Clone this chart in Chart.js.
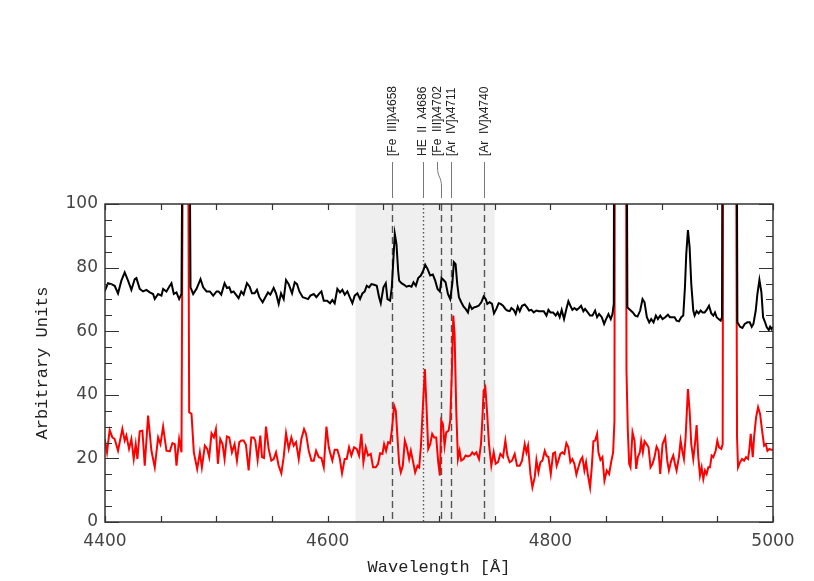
<!DOCTYPE html>
<html>
<head>
<meta charset="utf-8">
<script src="https://cdn.jsdelivr.net/npm/chart.js@4.4.1/dist/chart.umd.min.js"></script>
<style>
  html, body { margin: 0; padding: 0; background: #ffffff; }
  #wrap { position: relative; width: 814px; height: 581px; }
</style>
</head>
<body>
<div id="wrap"><canvas id="c" width="814" height="581"></canvas></div>
<script>
// ---------------- data ----------------
const xTickLabels = [4400, 4600, 4800, 5000];
const yTickLabels = [0, 20, 40, 60, 80, 100];

const blackWl = [
4399.7,4402.7,4405.7,4408.7,4411.7,4414.7,4417.7,4420.7,4423.7,4426.7,4428.2,4431.2,4434.2,4437.2,4440.2,4443.2,4444.7,4447.7,4450.7,4452.2,4455.2,4458.2,4459.7,4461.8,4464.2,4466.6,4468.7,4470.0,4475.6,4476.8,4479.2,4482.2,4485.8,4488.2,4491.2,4494.2,4497.2,4500.2,
4502.0,4504.4,4507.4,4509.5,4511.6,4513.4,4515.5,4517.6,4520.0,4522.4,4524.5,4527.5,4529.9,4532.0,4534.4,4536.5,4538.6,4541.6,4544.0,4546.4,4548.5,4551.5,4553.6,4556.0,4558.1,4560.5,4562.6,4565.0,4568.0,4570.4,4572.5,4574.6,4577.6,4580.0,4582.4,4584.5,4587.5,4589.9,4592.6,4594.4,4596.5,4599.5,
4602.1,4604.2,4606.3,4608.7,4611.1,4613.2,4615.3,4617.7,4619.8,4622.2,4624.3,4626.7,4629.1,4631.2,4633.3,4635.1,4637.2,4639.3,4641.7,4644.1,4646.2,4647.7,4650.1,4652.2,4653.7,4656.1,4657.6,4659.1,4660.3,4661.8,4663.3,4664.2,4666.3,4668.7,4670.8,4673.2,4675.3,4677.1,4679.2,4681.3,4683.7,4685.8,4687.6,4689.7,4692.1,4694.5,4696.6,4698.7,4700.8,
4702.3,4704.1,4705.9,4708.0,4710.1,4711.9,4713.4,4714.9,4716.4,4717.9,4720.0,4722.1,4723.9,4726.0,4727.5,4729.6,4731.4,4733.5,4735.6,4738.0,4740.1,4741.9,4743.4,4745.5,4747.6,4749.4,4751.5,4753.6,4755.4,4757.5,4759.6,4761.4,4763.5,4765.0,4767.1,4768.9,4770.7,4772.5,4774.6,4777.0,4779.1,4780.9,4783.0,4785.1,4787.5,4789.6,4792.0,4794.1,4796.5,4798.3,4800.1,4802.5,
4803.0,4804.8,4806.6,4808.4,4810.2,4812.3,4814.4,4816.2,4818.0,4819.8,4821.6,4823.7,4825.8,4827.6,4829.7,4831.2,4833.6,4835.7,4837.8,4840.2,4842.0,4843.8,4846.2,4848.3,4850.1,4852.2,4854.3,4855.8,4857.0,4858.2,4867.0,4869.2,4871.7,4874.1,4876.2,4878.3,4880.7,4882.8,4884.6,4886.7,4888.8,4890.6,4892.7,4894.8,4896.6,4898.7,4900.8,4903.2,
4905.6,4907.4,4909.5,4911.6,4913.4,4915.5,4917.6,4919.4,4920.9,4922.1,4923.6,4925.1,4926.6,4928.4,4929.6,4931.4,4933.2,4935.0,4936.8,4938.6,4940.4,4942.5,4944.6,4946.4,4947.9,4949.4,4951.2,4953.0,4954.2,4955.6,4966.0,4968.0,4970.4,4972.5,4974.6,4977.0,4979.1,4980.9,4982.4,4984.5,4986.0,4987.8,4989.6,4991.1,4992.9,4994.4,4996.2,4997.4,4998.6,4999.8
];
const blackFlux = [
72.5,75.1,74.8,74.3,71.9,75.9,78.5,75.9,73.0,76.4,76.7,73.3,72.5,73.0,72.2,71.7,70.1,71.7,71.2,73.3,72.5,74.3,75.1,71.7,72.2,70.1,71.7,150,150,73.8,71.7,73.3,76.4,73.8,72.5,72.5,71.2,72.5,
72.5,71.5,75.1,73.6,73.8,72.2,72.5,71.5,70.4,72.5,71.5,75.1,74.0,71.9,71.9,73.0,70.7,69.1,70.7,72.2,71.5,73.6,71.9,68.6,71.9,70.1,76.1,74.8,71.9,75.4,74.8,72.5,70.7,70.4,70.1,71.2,71.7,70.7,71.9,72.5,69.6,69.6,
68.8,69.8,68.8,73.3,72.2,73.0,71.5,72.5,70.7,68.8,71.2,71.9,70.1,71.9,72.5,74.3,73.8,74.8,74.6,74.3,70.7,68.8,73.8,75.1,70.1,69.6,73.8,83.2,90.6,87.4,79.0,75.9,75.1,74.6,74.0,74.3,74.0,75.4,74.3,76.7,77.5,79.0,80.9,79.6,77.5,77.8,75.9,73.3,72.5,
76.7,76.1,75.4,71.7,70.1,74.8,81.7,81.1,74.8,70.7,69.1,67.7,67.0,65.9,68.4,67.0,67.5,67.7,68.0,69.1,70.9,70.1,68.6,69.1,68.6,65.6,67.0,68.8,68.6,68.0,67.0,66.5,66.3,67.3,66.7,65.4,67.7,66.3,68.0,68.4,67.5,66.5,66.7,65.9,66.5,66.3,66.3,66.3,64.9,66.7,65.9,65.9,
65.9,64.9,65.9,64.4,66.7,63.8,67.0,69.4,68.0,66.7,67.3,66.7,67.3,68.0,66.3,67.0,65.9,64.9,64.9,66.5,64.4,65.4,64.4,62.3,63.8,65.4,63.8,65.4,68.6,300,300,67.5,66.7,65.9,64.9,64.6,66.5,70.1,69.1,64.4,62.8,63.8,62.8,64.9,63.8,64.9,63.8,64.4,
65.2,64.4,64.4,64.4,63.3,63.1,64.4,64.9,73.8,84.3,91.8,86.4,74.8,66.5,64.9,66.3,65.6,66.5,65.9,65.9,66.7,68.0,65.6,64.9,65.9,64.4,63.8,63.3,64.4,300,300,62.8,61.4,61.0,62.3,62.8,62.8,61.4,62.3,66.5,71.7,76.1,72.2,64.4,62.8,61.2,60.4,61.4,60.7,61.4
];

const redWl = [
4399.7,4401.8,4404.2,4406.6,4408.7,4411.7,4415.6,4417.7,4419.2,4421.6,4423.7,4425.8,4427.6,4429.1,4431.2,4433.6,4435.7,4438.7,4441.7,4444.7,4447.7,4449.8,4452.2,4455.2,4458.2,4460.6,4462.7,4464.2,4466.6,4468.7,4470.8,4474.0,4475.6,4477.7,4479.8,4482.8,4485.2,4487.0,4489.7,4491.8,4493.6,4495.7,4497.8,4499.6,
4501.4,4503.5,4505.6,4507.4,4509.5,4511.6,4514.0,4516.4,4518.5,4520.6,4522.4,4524.5,4526.6,4529.0,4531.4,4533.5,4535.0,4537.1,4539.5,4541.0,4542.8,4544.6,4547.0,4549.4,4551.5,4553.6,4556.0,4558.4,4560.5,4562.6,4565.0,4567.4,4569.5,4571.6,4574.0,4576.4,4578.8,4580.6,4583.0,4585.4,4587.5,4589.6,4592.0,4594.4,4596.5,4598.9,4601.0,
4602.1,4604.2,4606.3,4608.7,4610.8,4612.9,4615.3,4617.1,4619.2,4621.3,4623.7,4626.1,4628.2,4630.3,4632.1,4634.2,4636.3,4638.7,4640.8,4643.2,4645.3,4647.1,4649.2,4650.7,4652.5,4654.3,4656.1,4657.6,4659.7,4661.2,4662.7,4664.2,4665.7,4667.5,4669.3,4671.1,4673.2,4674.7,4676.5,4678.6,4680.7,4682.2,4683.7,4685.2,4687.3,4688.8,4690.3,4692.1,4693.9,4695.7,4697.5,4699.3,4700.8,
4702.0,4703.5,4705.0,4706.5,4708.6,4710.1,4711.6,4712.8,4714.0,4715.5,4717.0,4718.5,4720.0,4722.1,4723.9,4726.0,4728.1,4729.9,4731.7,4733.5,4735.9,4737.7,4738.9,4740.1,4741.6,4743.1,4744.9,4747.0,4749.1,4750.9,4753.0,4755.1,4757.5,4759.6,4761.4,4763.5,4765.6,4768.0,4770.1,4772.5,4774.6,4777.0,4778.5,4780.0,4782.1,4783.9,4786.0,4787.5,4789.3,4791.1,4792.9,4795.0,4796.5,4798.3,4800.4,4802.5,
4804.2,4805.7,4807.2,4809.0,4810.8,4812.6,4814.4,4816.2,4818.0,4819.8,4821.6,4823.4,4825.2,4827.0,4828.8,4830.6,4832.1,4833.6,4835.7,4837.2,4838.7,4840.2,4842.0,4843.2,4845.0,4846.8,4848.6,4850.7,4852.8,4854.6,4856.4,4857.6,4858.5,4867.2,4868.4,4869.6,4870.8,4872.0,4873.8,4875.6,4877.1,4878.6,4880.4,4881.6,4883.1,4884.6,4886.4,4888.2,4890.0,4891.8,4893.6,4895.4,4897.2,4898.7,4900.8,4903.2,
4905.0,4906.5,4908.6,4910.4,4911.9,4913.4,4915.5,4917.0,4918.5,4920.0,4921.5,4923.6,4925.1,4926.6,4928.4,4929.9,4931.4,4932.9,4934.4,4935.9,4937.4,4938.9,4940.4,4941.9,4943.4,4944.9,4946.4,4948.5,4950.0,4951.5,4953.6,4954.8,4956.0,4965.4,4967.7,4968.6,4970.4,4972.2,4974.0,4975.8,4977.6,4978.8,4980.0,4981.8,4983.0,4984.8,4986.6,4988.4,4990.2,4992.0,4993.5,4995.0,4996.8,4998.6,5000.1
];
const redFlux = [
26.1,21.9,28.9,26.6,26.1,22.4,29.3,25.6,27.2,23.0,26.1,19.8,24.5,19.8,28.5,28.7,17.7,33.5,22.4,17.2,26.6,24.5,30.0,22.4,22.2,24.8,24.5,17.7,26.1,21.9,200,200,34.5,34.0,21.9,16.7,21.9,17.2,24.0,23.0,20.4,27.9,26.6,29.2,
18.3,26.1,24.5,19.8,26.9,26.6,21.9,24.5,19.3,25.1,25.6,25.6,24.3,16.2,26.6,26.6,25.6,19.5,27.2,20.4,20.1,30.0,23.0,19.3,19.8,21.9,17.7,15.3,20.4,27.9,23.0,26.6,24.0,25.1,19.8,26.1,29.2,27.7,22.4,19.3,19.3,22.4,20.4,20.1,17.2,30.0,23.5,
21.9,19.3,22.7,22.7,20.1,15.3,19.8,19.8,23.5,20.9,23.5,23.0,20.9,27.7,18.8,23.5,20.9,21.4,17.2,17.2,18.3,21.6,21.4,24.5,22.4,25.1,24.8,28.7,36.6,35.0,26.6,18.3,15.6,17.7,25.6,23.5,19.8,22.4,19.3,15.6,17.7,17.2,23.5,34.0,48.1,36.1,23.0,24.5,27.7,26.6,26.6,18.8,14.6,
31.9,30.8,24.0,28.2,28.7,31.9,47.6,64.9,59.1,35.0,19.8,22.4,19.3,19.8,20.9,20.6,20.9,21.9,21.2,21.9,19.8,24.5,31.9,41.3,42.4,35.0,24.5,17.7,21.9,18.3,18.8,21.4,20.4,25.6,20.9,18.8,19.3,21.4,17.7,17.7,19.3,24.5,21.9,24.0,15.1,10.9,14.1,19.5,15.6,18.8,19.3,22.4,20.9,20.4,15.1,21.6,
21.9,17.7,19.3,21.4,21.9,21.4,24.8,23.5,18.8,19.8,18.3,14.9,17.2,19.3,20.4,16.2,18.8,15.1,10.9,17.2,25.4,25.6,27.7,21.9,19.5,20.4,13.0,16.2,15.1,18.8,21.9,31.9,300,300,47.6,28.7,18.3,17.2,28.2,25.6,16.7,20.4,21.9,25.4,21.9,25.4,24.5,23.5,17.2,18.3,20.4,23.7,22.4,15.1,24.5,26.6,
19.3,16.2,19.3,20.9,18.3,16.2,20.4,25.6,22.4,19.8,26.6,41.8,35.0,24.5,19.8,24.5,30.5,20.4,14.6,17.2,13.5,16.2,15.1,17.2,17.2,20.9,20.4,22.4,25.6,23.5,23.0,24.5,300,300,26.6,17.2,18.8,19.8,19.3,20.4,19.8,23.0,27.7,20.4,26.6,32.9,36.1,34.0,28.7,24.0,24.5,22.4,23.0,22.7,22.7
];

const shadeRange = [4625, 4750];
const lineWavelengths = [4658, 4686, 4702, 4711, 4740];
const lineLabels = ['[Fe  III]\u03bb4658', 'HE  II  \u03bb4686', '[Fe  III]\u03bb4702', '[Ar  IV]\u03bb4711', '[Ar  IV]\u03bb4740'];

// ---------------- drawing ----------------
const toPts = (xs, ys) => xs.map((v, i) => ({x: v, y: ys[i]}));

const lineDash = [[7, 4], [1.5, 2.5], [7, 4], [7, 4], [7, 4]];
const labelNudge = [0, -1, -4.5, -0.5, 0];

const overlay = {
  id: 'overlay',
  beforeDatasetsDraw(chart) {
    const {ctx, chartArea: a, scales: {x}} = chart;
    ctx.save();
    const x0 = x.getPixelForValue(shadeRange[0]);
    const x1 = x.getPixelForValue(shadeRange[1]);
    ctx.fillStyle = '#efefef';
    ctx.fillRect(x0, a.top, x1 - x0, a.bottom - a.top);
    lineWavelengths.forEach((w, i) => {
      const px = Math.round(x.getPixelForValue(w)) + 0.5;
      ctx.strokeStyle = '#555';
      ctx.lineWidth = 1.4;
      ctx.setLineDash(lineDash[i]);
      ctx.beginPath();
      ctx.moveTo(px, a.top);
      ctx.lineTo(px, a.bottom);
      ctx.stroke();
    });
    ctx.restore();
  },
  afterDraw(chart) {
    const {ctx, chartArea: a, scales: {x, y}} = chart;
    ctx.save();
    // frame
    ctx.strokeStyle = '#333';
    ctx.lineWidth = 1.5;
    ctx.strokeRect(a.left, a.top, a.right - a.left, a.bottom - a.top);
    // x ticks (every 50, inward, bottom and top)
    ctx.lineWidth = 1.2;
    for (let v = x.min; v <= x.max + 0.001; v += 50) {
      const px = Math.round(x.getPixelForValue(v)) + 0.5;
      ctx.beginPath();
      ctx.moveTo(px, a.bottom); ctx.lineTo(px, a.bottom - 6);
      ctx.moveTo(px, a.top); ctx.lineTo(px, a.top + 6);
      ctx.stroke();
    }
    // y ticks (minor every 5, major every 20), left and right
    for (let v = y.min; v <= y.max + 0.001; v += 5) {
      const py = Math.round(y.getPixelForValue(v)) + 0.5;
      const len = (v % 20 === 0) ? 14 : 7;
      ctx.beginPath();
      ctx.moveTo(a.left, py); ctx.lineTo(a.left + len, py);
      ctx.moveTo(a.right, py); ctx.lineTo(a.right - len, py);
      ctx.stroke();
    }
    // line labels above the plot
    ctx.font = '12px "Liberation Sans", Arial, sans-serif';
    ctx.fillStyle = '#222';
    ctx.strokeStyle = '#777';
    ctx.lineWidth = 1;
    ctx.setLineDash([]);
    lineWavelengths.forEach((w, i) => {
      const lx = x.getPixelForValue(w);
      const tx = Math.round(lx + labelNudge[i]) + 0.5;
      const px = Math.round(lx) + 0.5;
      ctx.beginPath();
      if (Math.abs(tx - px) > 1) {
        ctx.moveTo(tx, 162);
        ctx.lineTo(tx, 167);
        ctx.bezierCurveTo(tx, 178, px, 176, px, 187);
        ctx.lineTo(px, 198);
      } else {
        ctx.moveTo(px, 162);
        ctx.lineTo(px, 198);
      }
      ctx.stroke();
      ctx.save();
      ctx.translate(tx + 0.5, 156);
      ctx.rotate(-Math.PI / 2);
      ctx.textAlign = 'left';
      ctx.textBaseline = 'middle';
      ctx.fillText(lineLabels[i], 0, 0);
      ctx.restore();
    });
    ctx.restore();
  }
};

Chart.defaults.font.family = '"DejaVu Sans", sans-serif';

new Chart(document.getElementById('c'), {
  type: 'line',
  data: {
    datasets: [
      { label: 'black', data: toPts(blackWl, blackFlux), borderColor: '#000000', borderWidth: 2, pointRadius: 0, tension: 0, fill: false },
      { label: 'red', data: toPts(redWl, redFlux), borderColor: '#ff0000', borderWidth: 2, pointRadius: 0, tension: 0, fill: false }
    ]
  },
  options: {
    responsive: false,
    animation: false,
    devicePixelRatio: 1,
    layout: { padding: { top: 204, right: 41, left: 0, bottom: 0 } },
    plugins: { legend: { display: false }, tooltip: { enabled: false } },
    scales: {
      x: {
        type: 'linear',
        min: 4400, max: 5000,
        afterBuildTicks: (s) => { s.ticks = xTickLabels.map(v => ({value: v})); },
        afterFit: (s) => { s.height = 59; },
        grid: { display: false, drawTicks: false },
        border: { display: false },
        ticks: { padding: 9, color: '#444', font: { size: 17 }, maxRotation: 0, callback: (v) => String(v) },
        title: { display: true, text: 'Wavelength [\u00c5]', color: '#222', font: { family: '"Liberation Mono", monospace', size: 17 }, padding: { top: 0, bottom: 3 } }
      },
      y: {
        type: 'linear',
        min: 0, max: 100,
        afterBuildTicks: (s) => { s.ticks = yTickLabels.map(v => ({value: v})); },
        afterFit: (s) => { s.width = 105; },
        grid: { display: false, drawTicks: false },
        border: { display: false },
        ticks: { padding: 7, color: '#444', font: { size: 17 }, callback: (v) => String(v) },
        title: { display: true, text: 'Arbitrary Units', color: '#222', font: { family: '"Liberation Mono", monospace', size: 17 }, padding: { top: 32, bottom: 0 } }
      }
    }
  },
  plugins: [overlay]
});
</script>
</body>
</html>
